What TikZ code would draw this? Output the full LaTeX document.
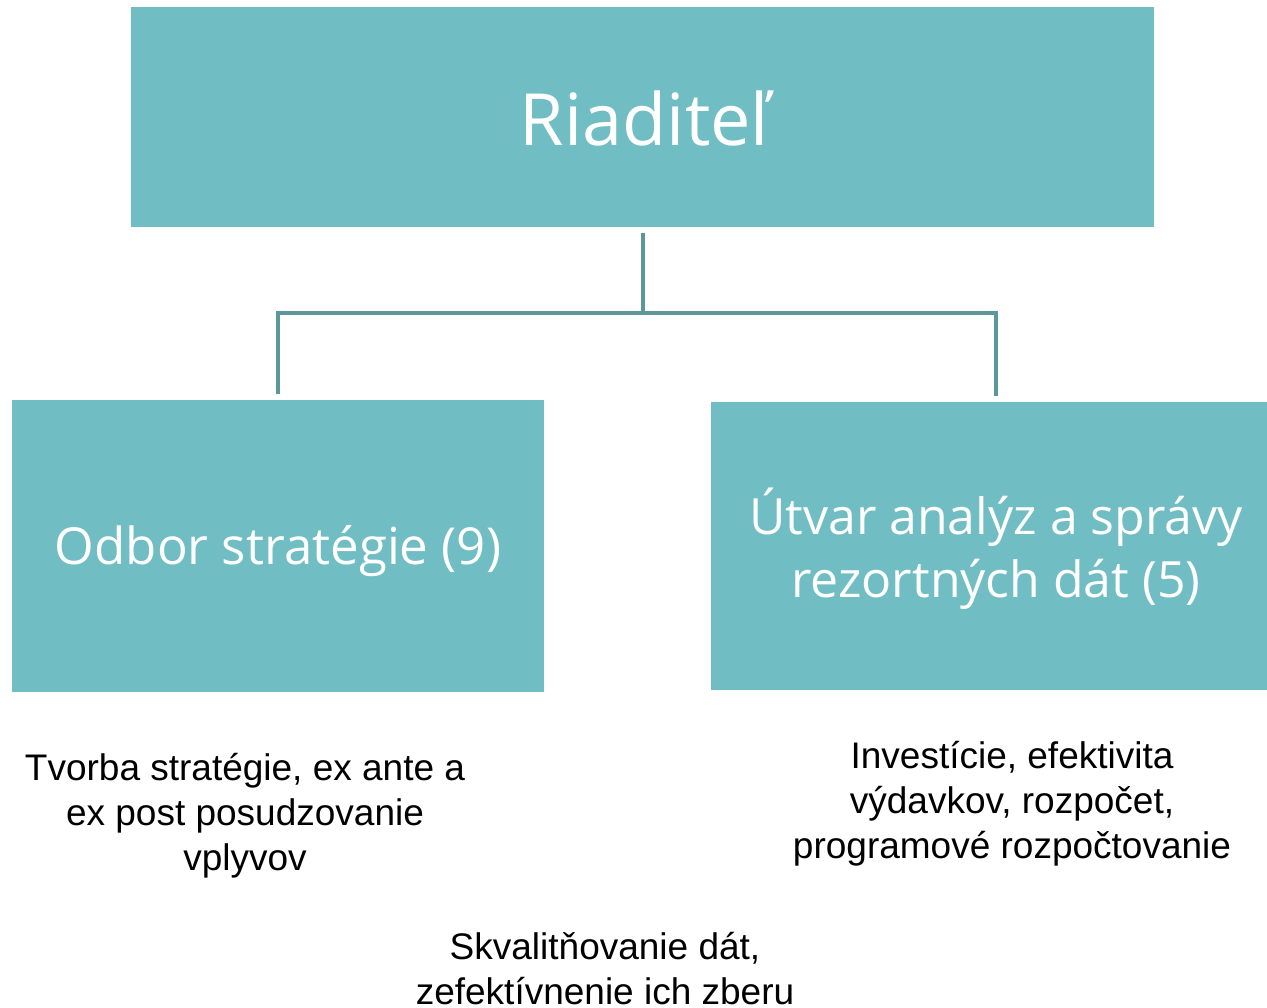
\documentclass[tikz,border=0pt]{standalone}
\usepackage{fontspec}
\setmainfont{Liberation Sans}
\newfontfamily\boxfont{Open Sans}
\usetikzlibrary{positioning}
\definecolor{boxfill}{HTML}{71BDC4}
\definecolor{linecol}{HTML}{5B979B}
\tikzstyle{box} = [fill=boxfill, inner sep=0pt]
\tikzstyle{boxtext} = [text=white, align=center, inner sep=0pt]
\tikzstyle{popis} = [align=center, font=\fontsize{37}{45}\selectfont]
\tikzstyle{linka} = [draw=linecol, line width=4pt]

\begin{document}
\begin{tikzpicture}[x=1pt, y=-1pt]
\useasboundingbox[fill=white] (0,0) rectangle (1267,1008);
% boxes
\node[box, minimum width=1023pt, minimum height=220pt] (riaditel) at (642.5,117) {};
\node[box, minimum width=532pt, minimum height=292pt] (odbor) at (278,546) {};
\node[box, minimum width=556pt, minimum height=288pt] (utvar) at (989,546) {};
\node[boxtext, font=\boxfont\fontsize{72}{90}\selectfont] (riaditelText)
  at ([xshift=2pt,yshift=-2pt]riaditel.center) {Riadite\v{l}};
\node[boxtext, font=\boxfont\fontsize{51}{63}\selectfont] (odborText)
  at ([yshift=-5pt]odbor.center) {Odbor strat\'egie (9)};
\node[boxtext, font=\boxfont\fontsize{50}{63}\selectfont] (utvarText)
  at ([xshift=7pt,yshift=-3pt]utvar.center) {\'Utvar anal\'yz a spr\'avy\\rezortn\'ych d\'at (5)};
% connectors
\coordinate (rozdel) at ([yshift=-86pt]riaditel.south);
\draw[linka, shorten <=6pt] (riaditel.south) -- (rozdel);
\draw[linka, shorten >=6pt] (rozdel) -| (odbor.north);
\draw[linka, shorten >=6pt] (rozdel) -| ([xshift=7pt]utvar.north);
% descriptions
\node[popis] (popisOdbor) at (245,816) {Tvorba strat\'egie, ex ante a\\ex post posudzovanie\\vplyvov};
\node[popis] (popisUtvar) at (1012,804) {Invest\'icie, efektivita\\v\'ydavkov, rozpo\v{c}et,\\programov\'e rozpo\v{c}tovanie};
\node[popis] (popisData) at (605,969) {Skvalit\v{n}ovanie d\'at,\\zefekt\'ivnenie ich zberu};
\end{tikzpicture}
\end{document}
